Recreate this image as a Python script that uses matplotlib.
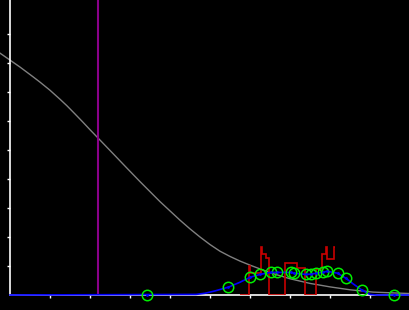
import numpy as np
import matplotlib
matplotlib.use("Agg")
from matplotlib import pyplot as plt

# gray falling curve
gray_x = [-0.25, 0.0, 0.25, 0.58, 0.75, 1.0, 1.25, 1.42, 1.62, 1.83, 2.0, 2.21, 2.58, 2.92,
          3.25, 3.75, 4.25, 4.5, 4.75, 5.0, 5.25, 5.5, 5.75, 6.0, 6.5, 7.0, 7.5, 8.0,
          8.5, 9.08, 10.0]
gray_y = [8.34, 8.10, 7.86, 7.52, 7.34, 7.06, 6.75, 6.53, 6.25, 5.95, 5.70, 5.40, 4.87, 4.38,
          3.91, 3.22, 2.58, 2.28, 2.00, 1.74, 1.51, 1.33, 1.17, 1.03, 0.77, 0.56, 0.40, 0.28,
          0.18, 0.10, 0.05]

# blue smooth curve
blue_x = [0.0, 4.65, 4.875, 5.125, 5.458, 5.75, 6.0, 6.25, 6.525, 6.675, 7.025, 7.1, 7.393,
          7.533, 7.643, 7.825, 7.925, 8.193, 8.393, 8.583, 8.808, 9.0, 9.168, 10.0]
blue_y = [0.0, 0.02, 0.06, 0.14, 0.27, 0.44, 0.61, 0.71, 0.78, 0.78, 0.78, 0.75, 0.71,
          0.72, 0.75, 0.78, 0.82, 0.75, 0.58, 0.38, 0.16, 0.02, 0.0, 0.0]

# green points
pts_x = [3.43, 5.46, 6.01, 6.25, 6.53, 6.68, 7.03, 7.10, 7.39, 7.53, 7.64, 7.83, 7.93,
         8.19, 8.39, 8.81, 9.61]
pts_y = [0.0, 0.27, 0.61, 0.71, 0.78, 0.78, 0.78, 0.75, 0.71, 0.72, 0.75, 0.78, 0.82,
         0.75, 0.58, 0.16, 0.0]

# red step histogram
red_edges = [5.75, 5.968, 6.0, 6.263, 6.3, 6.4, 6.468, 6.875, 7.168, 7.375, 7.643, 7.793,
             7.9, 7.933, 8.1, 8.113]
red_vals = [0.0, 1.0, 0.748, 1.645, 1.414, 1.266, 0.0, 1.093, 0.921, 0.0, 0.886, 1.414,
            1.645, 1.241, 1.645]

cut_x = 2.21

fig = plt.figure(figsize=(4.1, 3.1), dpi=100, facecolor="black")
ax = fig.add_axes([10 / 410, 15 / 310, 400 / 410, 295 / 310])
ax.set_facecolor("black")
ax.set_xlim(0, 10)
ax.set_ylim(0, 295 / 29)

ax.plot(gray_x, gray_y, color="#808080", lw=1.0, clip_on=False, zorder=2)
ax.axvline(cut_x, color="#8a008a", lw=1.5, zorder=2)
ax.stairs(red_vals, red_edges, baseline=None, color="#c80000", lw=1.2, zorder=3)
ax.plot(blue_x, blue_y, color="#0000ff", lw=1.2, clip_on=False, zorder=4)
ax.plot(pts_x, pts_y, "o", ms=7.5, mfc="none", mec="#00ee00", mew=1.1,
        clip_on=False, zorder=5)
ax.plot(pts_x, pts_y, ".", ms=2, color="#0000ff", clip_on=False, zorder=6)

for s in ["top", "right"]:
    ax.spines[s].set_visible(False)
ax.spines["left"].set_color("white")
ax.spines["bottom"].set_color("white")
ax.spines["left"].set_linewidth(1.2)
ax.spines["bottom"].set_linewidth(1.2)
ax.set_xticks(np.arange(1, 10))
ax.set_yticks(np.arange(1, 10))
ax.tick_params(colors="white", length=2.5, width=1.0, labelleft=False, labelbottom=False)

fig.savefig("out.png", facecolor="black")
